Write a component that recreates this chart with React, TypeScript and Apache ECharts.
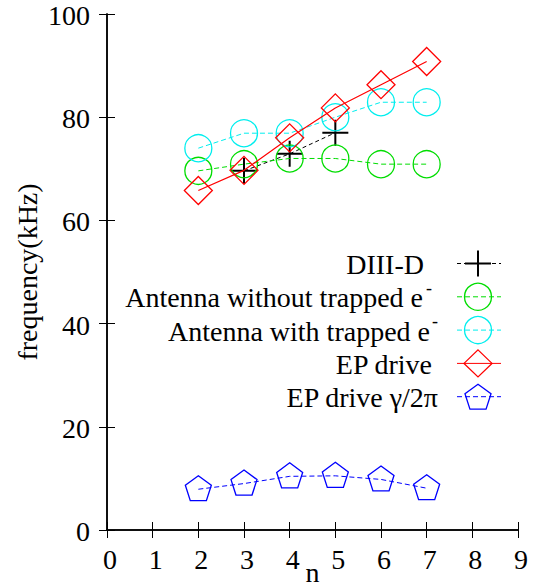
import React, { useEffect, useRef } from "react";
import * as echarts from "echarts";

// ---- data ----
const nValues = [2, 3, 4, 5, 6, 7];
const diiidN = [3, 4, 5];
const diiidFreq = [69.6, 72.9, 77.0];
const antennaWithout = [69.6, 70.9, 72.0, 72.0, 70.9, 70.9];
const antennaWith = [74.0, 76.9, 76.9, 80.0, 82.9, 82.9];
const epDrive = [65.8, 69.7, 76.0, 81.8, 86.3, 90.8];
const epGamma = [7.9, 9.0, 10.4, 10.5, 9.8, 8.1];

const xTicks = [0, 9, 1];
const yTicks = [0, 100, 20];
const xName = "n";
const yName = "frequency(kHz)";

const legendNames = [
  "DIII-D",
  "Antenna without trapped e",
  "Antenna with trapped e",
  "EP drive",
  "EP drive γ/2π",
];
const legendSup = ["", "-", "-", "", ""];

const FONT = "Liberation Serif";
const F28 = "28px " + FONT;
const F18 = "18px " + FONT;
const BLACK = "#000000";
const GREEN = "#00dd00";
const CYAN = "#00eeee";
const RED = "#ff0000";
const BLUE = "#0000ff";

const PLUS = "path://M0,-1L0,1M-1,0L1,0";
const PENTAGON =
  "path://M0,-1L0.951,-0.309L0.588,0.809L-0.588,0.809L-0.951,-0.309Z";

function pairs(xs: number[], ys: number[]) {
  return xs.map((x, i) => [x, ys[i]]);
}

export default function App() {
  const ref = useRef<HTMLDivElement>(null);

  useEffect(() => {
    if (!ref.current) return;
    const chart = echarts.init(ref.current, undefined, { renderer: "svg" });

    const axisLine = { show: true, lineStyle: { color: BLACK, width: 1.5 } };
    const axisTick = {
      show: true,
      inside: true,
      length: 8,
      lineStyle: { color: BLACK, width: 1 },
    };

    const emptyItem = (c: string, w = 1.3) => ({
      color: "transparent",
      borderColor: c,
      borderWidth: w,
    });

    const axisBase = (min: number, max: number, interval: number) => ({
      type: "value",
      min,
      max,
      interval,
      axisLine,
      axisTick,
      splitLine: { show: false },
      axisLabel: { show: false },
    });

    const option: any = {
      animation: false,
      backgroundColor: "#ffffff",
      grid: {
        left: 107,
        right: 21,
        top: 14,
        bottom: 56,
        containLabel: false,
        outerBoundsMode: "none",
      },
      xAxis: [
        { ...axisBase(xTicks[0], xTicks[1], xTicks[2]), position: "bottom" },
        { ...axisBase(xTicks[0], xTicks[1], xTicks[2]), position: "top" },
      ],
      yAxis: [
        { ...axisBase(yTicks[0], yTicks[1], yTicks[2]), position: "left" },
        { ...axisBase(yTicks[0], yTicks[1], yTicks[2]), position: "right" },
      ],
      series: [
        {
          name: "DIII-D",
          type: "line",
          data: pairs(diiidN, diiidFreq),
          symbol: PLUS,
          symbolSize: 26,
          showAllSymbol: true,
          lineStyle: { color: BLACK, width: 1, type: [4, 3] },
          itemStyle: { color: "none", borderColor: BLACK, borderWidth: 2 },
          z: 2,
        },
        {
          name: "Antenna without trapped e-",
          type: "line",
          data: pairs(nValues, antennaWithout),
          symbol: "circle",
          symbolSize: 27,
          showAllSymbol: true,
          lineStyle: { color: GREEN, width: 1, type: [5, 3] },
          itemStyle: emptyItem(GREEN),
          z: 3,
        },
        {
          name: "Antenna with trapped e-",
          type: "line",
          data: pairs(nValues, antennaWith),
          symbol: "circle",
          symbolSize: 27,
          showAllSymbol: true,
          lineStyle: { color: CYAN, width: 1, type: [5, 3] },
          itemStyle: emptyItem(CYAN),
          z: 3,
        },
        {
          name: "EP drive",
          type: "line",
          data: pairs(nValues, epDrive),
          symbol: "diamond",
          symbolSize: 28,
          showAllSymbol: true,
          lineStyle: { color: RED, width: 1.2, type: "solid" },
          itemStyle: emptyItem(RED),
          z: 4,
        },
        {
          name: "EP drive γ/2π",
          type: "line",
          data: pairs(nValues, epGamma),
          symbol: PENTAGON,
          symbolSize: [26, 25],
          symbolOffset: [0, -1],
          showAllSymbol: true,
          lineStyle: { color: BLUE, width: 1, type: [5, 3] },
          itemStyle: emptyItem(BLUE),
          z: 4,
        },
      ],
    };

    chart.setOption(option);

    const graphics: any[] = [];

    // ---- tick labels and axis names, placed through the axes' scales ----
    const axisY = chart.convertToPixel({ yAxisIndex: 0 }, yTicks[0]) as number;
    const axisX = chart.convertToPixel({ xAxisIndex: 0 }, xTicks[0]) as number;
    const axisXEnd = chart.convertToPixel({ xAxisIndex: 0 }, xTicks[1]) as number;
    const axisYTop = chart.convertToPixel({ yAxisIndex: 0 }, yTicks[1]) as number;

    for (let v = xTicks[0]; v <= xTicks[1]; v += xTicks[2]) {
      const px = chart.convertToPixel({ xAxisIndex: 0 }, v) as number;
      graphics.push({
        type: "text",
        x: px + 3,
        y: axisY + 15,
        style: { text: String(v), font: F28, fill: BLACK, align: "center" },
      });
    }
    for (let v = yTicks[0]; v <= yTicks[1]; v += yTicks[2]) {
      const py = chart.convertToPixel({ yAxisIndex: 0 }, v) as number;
      graphics.push({
        type: "text",
        x: axisX - 17,
        y: py - 12.5,
        style: { text: String(v), font: F28, fill: BLACK, align: "right" },
      });
    }
    graphics.push({
      type: "text",
      x: (axisX + axisXEnd) / 2,
      y: axisY + 28.5,
      style: { text: xName, font: F28, fill: BLACK, align: "center" },
    });
    graphics.push({
      type: "text",
      x: 13,
      y: (axisY + axisYTop) / 2,
      rotation: Math.PI / 2,
      style: { text: yName, font: F28, fill: BLACK, align: "center" },
    });

    // ---- legend ----
    const rowY0 = 263.5;
    const rowStep = 33.3;
    const textRight = [424, 423, 430, 432, 438];
    const supLeft = [0, 426, 432, 0, 0];
    const lineX1 = 457;
    const lineX2 = 501;
    const mx = 478;
    const legendColors = [BLACK, GREEN, CYAN, RED, BLUE];
    const legendDash: any[] = [[4, 3], [5, 3], [5, 3], null, [5, 3]];

    legendNames.forEach((name, i) => {
      const y = rowY0 + rowStep * i;
      graphics.push({
        type: "text",
        x: textRight[i],
        y: y - 13,
        style: { text: name, font: F28, fill: BLACK, align: "right" },
        z: 10,
      });
      if (legendSup[i]) {
        graphics.push({
          type: "text",
          x: supLeft[i],
          y: y - 18,
          style: { text: legendSup[i], font: F18, fill: BLACK },
          z: 10,
        });
      }
      graphics.push({
        type: "line",
        shape: { x1: lineX1, y1: y, x2: lineX2, y2: y },
        style: {
          stroke: legendColors[i],
          lineWidth: 1,
          lineDash: legendDash[i] || undefined,
        },
        z: 10,
      });
    });

    const r0 = rowY0;
    graphics.push(
      {
        type: "line",
        shape: { x1: mx - 13, y1: r0, x2: mx + 13, y2: r0 },
        style: { stroke: BLACK, lineWidth: 2 },
        z: 11,
      },
      {
        type: "line",
        shape: { x1: mx, y1: r0 - 13, x2: mx, y2: r0 + 13 },
        style: { stroke: BLACK, lineWidth: 2 },
        z: 11,
      },
      {
        type: "circle",
        shape: { cx: mx, cy: rowY0 + rowStep, r: 13.5 },
        style: { stroke: GREEN, fill: "none", lineWidth: 1.3 },
        z: 11,
      },
      {
        type: "circle",
        shape: { cx: mx, cy: rowY0 + rowStep * 2, r: 13.5 },
        style: { stroke: CYAN, fill: "none", lineWidth: 1.3 },
        z: 11,
      }
    );
    {
      const y = rowY0 + rowStep * 3;
      graphics.push({
        type: "polygon",
        shape: {
          points: [
            [mx, y - 13.5],
            [mx + 14, y],
            [mx, y + 13.5],
            [mx - 14, y],
          ],
        },
        style: { stroke: RED, fill: "none", lineWidth: 1.3 },
        z: 11,
      });
    }
    {
      const y = rowY0 + rowStep * 4 + 1.3;
      const r = 13.7;
      const pts: number[][] = [];
      for (let k = 0; k < 5; k++) {
        const a = -Math.PI / 2 + (k * 2 * Math.PI) / 5;
        pts.push([mx + r * Math.cos(a), y + r * Math.sin(a)]);
      }
      graphics.push({
        type: "polygon",
        shape: { points: pts },
        style: { stroke: BLUE, fill: "none", lineWidth: 1.3 },
        z: 11,
      });
    }

    chart.setOption({ graphic: graphics });
    return () => chart.dispose();
  }, []);

  return (
    <div
      ref={ref}
      style={{
        position: "fixed",
        left: 0,
        top: 0,
        width: 539,
        height: 586,
        background: "#fff",
      }}
    />
  );
}
